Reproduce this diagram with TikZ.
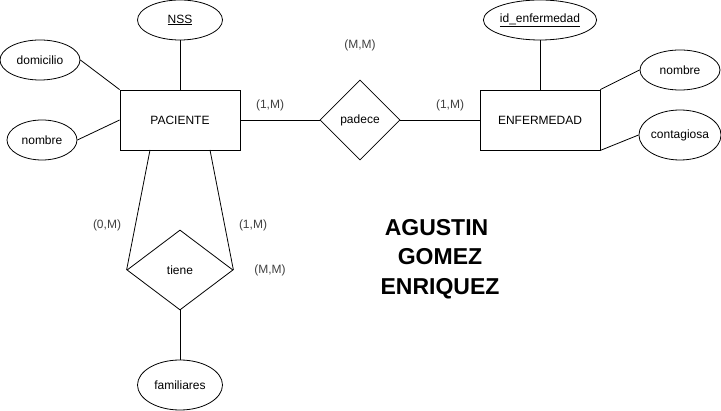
\documentclass[tikz,border=0pt]{standalone}
\usepackage{fontspec}
\setmainfont{Liberation Sans}
\usetikzlibrary{shapes.geometric}
\begin{document}
\begin{tikzpicture}[x=1pt,y=-1pt,
  attr/.style={draw,thick,ellipse,inner sep=0pt,font=\fontsize{12}{14}\selectfont},
  entity/.style={draw,thick,rectangle,minimum width=120pt,minimum height=60pt,inner sep=0pt,font=\fontsize{12}{14}\selectfont},
  rel/.style={draw,thick,diamond,inner sep=0pt,font=\fontsize{12}{14}\selectfont},
  card/.style={font=\fontsize{12}{14}\selectfont,text=black!75},
  conn/.style={thick}]
\useasboundingbox (0,0) rectangle (721,411);
% entities
\node[entity] (pac) at (180,120) {PACIENTE};
\node[entity] (enf) at (540,120) {ENFERMEDAD};
% relationships
\node[rel,minimum width=80pt,minimum height=80pt] (pad) at (360,120) {padece};
\node[rel,minimum width=106pt,minimum height=80pt] (tie) at (180,270) {tiene};
% attributes
\node[attr,minimum width=85pt,minimum height=40pt] (nss) at (180,20) {\underline{NSS}};
\node[attr,minimum width=80pt,minimum height=40pt] (dom) at (40,60) {domicilio};
\node[attr,minimum width=70pt,minimum height=40pt] (nom1) at (42,140) {nombre};
\node[attr,minimum width=110pt,minimum height=40pt] (idenf) at (540,20) {\underline{id\_enfermedad}};
\node[attr,minimum width=80pt,minimum height=40pt] (nom2) at (680,70) {nombre};
\node[attr,minimum width=80pt,minimum height=50pt] (cont) at (680,135) {contagiosa};
\node[attr,minimum width=85pt,minimum height=50pt] (fam) at (180,385) {familiares};
% connectors
\draw[conn] (nss.south) -- (pac.north);
\draw[conn] (dom.east) -- (pac.north west);
\draw[conn] (nom1.east) -- (pac.west);
\draw[conn] (pac.east) -- (pad.west);
\draw[conn] (pad.east) -- (enf.west);
\draw[conn] (idenf.south) -- (enf.north);
\draw[conn] (enf.north east) -- (nom2.west);
\draw[conn] (enf.south east) -- (cont.west);
\coordinate (pl) at (150,150);
\coordinate (pr) at (210,150);
\draw[conn] (pl) -- (tie.west);
\draw[conn] (pr) -- (tie.east);
\draw[conn] (tie.south) -- (fam.north);
% cardinalities
\node[card] (c1) at (360,45) {(M,M)};
\node[card] (c2) at (270,105) {(1,M)};
\node[card] (c3) at (450,105) {(1,M)};
\node[card] (c4) at (107,225) {(0,M)};
\node[card] (c5) at (253,225) {(1,M)};
\node[card] (c6) at (270,270) {(M,M)};
% name
\node[font=\fontsize{23}{29.5}\selectfont\bfseries,align=center] (name) at (440,259) {AGUSTIN\hspace*{7pt}\\GOMEZ\\ENRIQUEZ};
\end{tikzpicture}
\end{document}
